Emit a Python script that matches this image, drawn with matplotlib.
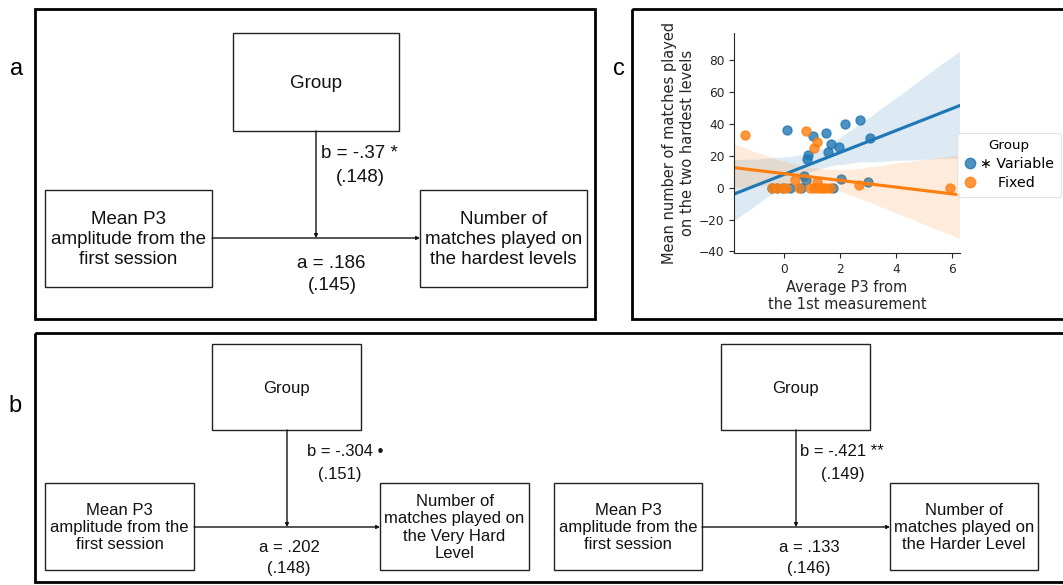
import numpy as np
import matplotlib
matplotlib.use("Agg")
import matplotlib.pyplot as plt
from matplotlib.patches import Rectangle
from matplotlib.lines import Line2D
import seaborn as sns

# ---------------- data ----------------
variable_x = [0.12, 1.05, 1.51, 2.20, 2.73, 3.08, 1.68, 1.98, 1.58, 0.87,
              0.83, 0.73, 0.79, 2.06, 3.02, -0.40, -0.22, -0.04, 0.21, 0.63, 1.76]
variable_y = [36.0, 32.2, 34.3, 40.2, 42.3, 31.2, 27.6, 25.7, 22.5, 20.6,
              18.1, 7.6, 4.8, 5.5, 3.6, 0, 0, 0, 0, 0, 0]
fixed_x = [-1.39, 0.79, 1.19, 1.08, 0.39, 1.20, 2.69, 5.94, -0.40, -0.22,
           -0.04, 0.10, 0.55, 0.93, 1.10, 1.23, 1.35, 1.42, 1.50, 1.64]
fixed_y = [32.8, 35.4, 28.6, 24.8, 4.8, 3.5, 1.7, 0, 0, 0,
           0, 0, 0, 0, 0, 0, 0, 0, 0, 0]
group_labels = ["\u2217 Variable", "    Fixed"]
x_ticks = [0, 2, 4, 6]
y_ticks = [-40, -20, 0, 20, 40, 60, 80]

panel_a = {"b": "b = -.37 *", "b_se": "(.148)", "a": "a = .186", "a_se": "(.145)",
           "left": "Mean P3\namplitude from the\nfirst session",
           "right": "Number of\nmatches played on\nthe hardest levels"}
panel_b1 = {"b": "b = -.304 \u2022", "b_se": "(.151)", "a": "a = .202", "a_se": "(.148)",
            "left": "Mean P3\namplitude from the\nfirst session",
            "right": "Number of\nmatches played on\nthe Very Hard\nLevel"}
panel_b2 = {"b": "b = -.421 **", "b_se": "(.149)", "a": "a = .133", "a_se": "(.146)",
            "left": "Mean P3\namplitude from the\nfirst session",
            "right": "Number of\nmatches played on\nthe Harder Level"}

BLUE = "#1f77b4"
ORANGE = "#ff7f0e"
FONT = "Liberation Sans"

W, H = 1063, 585
fig = plt.figure(figsize=(W / 100, H / 100), dpi=100)
bg = fig.add_axes([0, 0, 1, 1])
bg.set_xlim(0, W)
bg.set_ylim(H, 0)
bg.axis("off")

# outer frames
for (x0, y0, w, h) in [(35, 9, 560, 310), (632, 9, 520, 310), (35, 333, 1100, 249)]:
    bg.add_patch(Rectangle((x0, y0), w, h, fill=False, lw=2.0, ec="black"))

bg.text(17, 69, "a", fontsize=17, family=FONT, ha="center", va="center")
bg.text(619, 69, "c", fontsize=17, family=FONT, ha="center", va="center")
bg.text(15, 406, "b", fontsize=17, family=FONT, ha="center", va="center")


def box(x0, y0, x1, y1, text, fs):
    bg.add_patch(Rectangle((x0, y0), x1 - x0, y1 - y0, fill=False, lw=1.0, ec="#222222"))
    bg.text((x0 + x1) / 2, (y0 + y1) / 2 + 1, text, fontsize=fs, family=FONT,
            ha="center", va="center", color="#111111", linespacing=1.2)


def arrow(x0, y0, x1, y1):
    bg.annotate("", xy=(x1, y1), xytext=(x0, y0),
                arrowprops=dict(arrowstyle="-|>", lw=1.0, color="#111111",
                                mutation_scale=5, shrinkA=0, shrinkB=0))


def diagram(d, g, l, r, vx, hy, bpos, bsepos, apos, asepos, fs, afs):
    box(*g, "Group", fs)
    box(*l, d["left"], fs)
    box(*r, d["right"], fs)
    arrow(vx, g[3], vx, hy)
    arrow(l[2], hy, r[0], hy)
    for pos, key in [(bpos, "b"), (bsepos, "b_se"), (apos, "a"), (asepos, "a_se")]:
        bg.text(pos[0], pos[1], d[key], fontsize=afs, family=FONT, ha="center",
                va="center", color="#111111")


diagram(panel_a, (233, 33, 399, 131), (45, 190, 212, 287), (420, 190, 587, 287),
        316, 238, (359, 154), (360, 177), (331, 263), (332, 286), 13.5, 13.5)
diagram(panel_b1, (212, 344, 361, 430), (45, 483, 194, 570), (380, 483, 529, 570),
        287, 527, (345, 452), (340, 474), (289, 548), (289, 568), 12, 12)
diagram(panel_b2, (721, 344, 870, 430), (554, 483, 702, 570), (890, 483, 1038, 570),
        796, 527, (842, 452), (843, 474), (809, 548), (809, 568), 12, 12)

# ---------------- scatter panel c ----------------
ax_l, ax_r, ax_t, ax_b = 734, 960, 33, 253
ax = fig.add_axes([ax_l / W, (H - ax_b) / H, (ax_r - ax_l) / W, (ax_b - ax_t) / H])
xlim = (-1.77, 6.29)
ylim = (-41, 97)
ax.set_xlim(*xlim)
ax.set_ylim(*ylim)
sns.regplot(x=np.array(variable_x), y=np.array(variable_y), ax=ax, color=BLUE,
            truncate=False, scatter_kws=dict(s=42), seed=3)
ax.set_xlim(*xlim)
sns.regplot(x=np.array(fixed_x), y=np.array(fixed_y), ax=ax, color=ORANGE,
            truncate=False, scatter_kws=dict(s=42), seed=3)
ax.set_xlim(*xlim)
ax.set_ylim(*ylim)
ax.set_xticks(x_ticks)
ax.set_yticks(y_ticks)
ax.tick_params(labelsize=8.7, color="#262626", labelcolor="#262626")
for s in ["top", "right"]:
    ax.spines[s].set_visible(False)
for s in ["left", "bottom"]:
    ax.spines[s].set_color("#262626")
ax.set_xlabel("Average P3 from\nthe 1st measurement", fontsize=10.5, color="#262626",
              labelpad=3)
ax.set_ylabel("Mean number of matches played\non the two hardest levels", fontsize=10.5,
              color="#262626", labelpad=3)

handles = [Line2D([], [], marker="o", ls="", color=BLUE, alpha=0.8, markersize=7.5),
           Line2D([], [], marker="o", ls="", color=ORANGE, alpha=0.8, markersize=7.5)]
leg = fig.legend(handles, group_labels, title="Group", loc="upper left",
                 bbox_to_anchor=(957 / W, 1 - 133 / H), fontsize=10.2, title_fontsize=9.6,
                 frameon=True, handletextpad=0.2, borderpad=0.45, labelspacing=0.35,
                 handlelength=1.0, borderaxespad=0)
leg.get_frame().set_edgecolor("#dddddd")
leg.get_frame().set_linewidth(0.8)

fig.savefig("out.png", dpi=100)
